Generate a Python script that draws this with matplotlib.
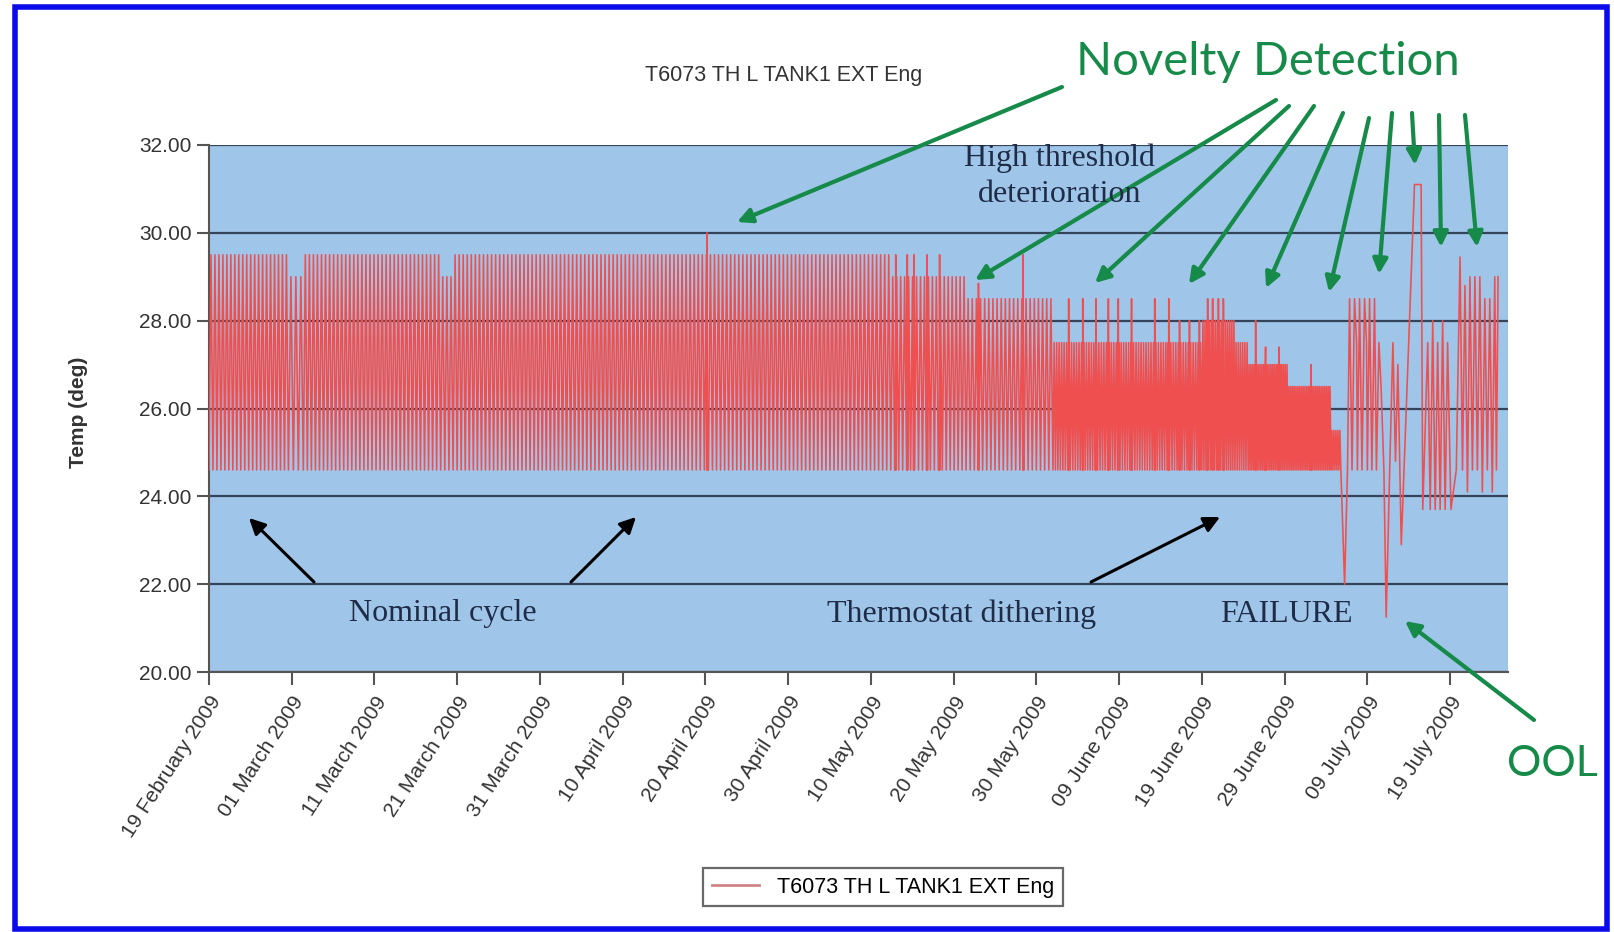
import numpy as np
import pandas as pd
import matplotlib.pyplot as plt
import matplotlib.dates as mdates
from matplotlib.patches import Rectangle

W, H = 1614, 932
start = pd.Timestamp('2009-02-19')

# regular thermostat cycling (days after 19 Feb 2009)
seg_start = [0.0, 9.6, 11.4, 28.0, 29.5, 82.4, 91.5, 102.0, 120.0, 124.0, 125.6, 130.4, 135.6]
seg_end = [9.6, 11.4, 28.0, 29.5, 82.4, 91.5, 102.0, 120.0, 124.0, 125.6, 130.4, 135.6, 136.8]
seg_low = [24.6, 24.6, 24.6, 24.6, 24.6, 24.6, 24.6, 24.6, 24.6, 24.6, 24.6, 24.6, 24.6]
seg_high = [29.5, 29.0, 29.5, 29.0, 29.5, 29.0, 28.5, 27.5, 28.0, 27.5, 27.0, 26.5, 25.5]
seg_cycles = [20, 3, 34, 3, 108, 19, 21, 60, 16, 6, 22, 24, 5]

# single excursions sticking out of the regular cycling
spike_day = [60.2, 83.0, 84.4, 85.2, 86.8, 88.3, 93.0, 98.4, 103.9, 105.6, 107.2,
             108.7, 109.9, 111.5, 114.3, 116.0, 117.3, 118.5, 119.7, 120.7, 121.3,
             122.0, 122.6, 126.5, 127.7, 129.3, 133.2]
spike_val = [30.0, 29.5, 29.5, 29.5, 29.5, 29.5, 28.85, 29.5, 28.5, 28.5, 28.5,
             28.5, 28.5, 28.5, 28.5, 28.5, 28.0, 28.0, 28.0, 28.5, 28.5,
             28.5, 28.5, 28.0, 27.4, 27.4, 27.0]

# failure period, point by point
tail_day = [136.8, 137.25, 137.6, 137.85, 138.15, 138.45, 138.7, 138.8, 139.06, 139.35,
            139.66, 139.9, 140.0, 140.27, 140.55, 140.87, 141.1, 141.4, 141.68, 142.0,
            142.28, 142.7, 143.09, 143.4, 143.69, 144.1, 145.7, 146.5, 146.7, 147.3,
            147.6, 147.9, 148.2, 148.5, 148.8, 149.1, 149.4, 149.7, 150.1, 150.75,
            151.2, 151.5, 151.8, 152.1, 152.4, 152.7, 153.0, 153.3, 153.6, 153.9,
            154.2, 154.5, 154.8, 155.1, 155.4, 155.6, 155.8]
tail_val = [24.6, 22.0, 24.6, 28.5, 24.6, 28.5, 27.5, 24.6, 28.5, 24.6,
            28.5, 27.5, 24.6, 28.5, 24.6, 28.5, 24.6, 27.5, 26.4, 24.6,
            21.25, 24.6, 27.5, 24.8, 27.0, 22.9, 31.1, 31.1, 23.7, 27.5,
            23.7, 28.0, 23.7, 27.5, 23.7, 28.0, 23.7, 27.5, 23.7, 24.6,
            29.45, 24.6, 28.8, 24.1, 29.0, 24.6, 29.0, 24.6, 29.0, 24.1,
            28.5, 24.6, 28.5, 24.1, 29.0, 24.6, 29.0]

tick_dates = pd.date_range('2009-02-19', periods=16, freq='10D')

# build series
days, vals = [], []
for s, e, lo, hi, n in zip(seg_start, seg_end, seg_low, seg_high, seg_cycles):
    t = np.linspace(s, e, 2 * n + 1)[:-1]
    v = np.where(np.arange(2 * n) % 2 == 0, lo, hi)
    days.extend(t)
    vals.extend(v)
for d, v in zip(spike_day, spike_val):
    days.extend([d - 0.04, d, d + 0.04])
    vals.extend([24.6, v, 24.6])
order = np.argsort(days, kind='stable')
days = list(np.array(days)[order]) + tail_day
vals = list(np.array(vals)[order]) + tail_val
series = pd.Series(vals, index=start + pd.to_timedelta(days, unit='D'))

plt.rcParams['font.family'] = ['Liberation Sans', 'DejaVu Sans']

fig = plt.figure(figsize=(W / 100, H / 100), dpi=100)
ax = fig.add_axes([209 / W, 1 - 672 / H, (1508 - 209) / W, (672 - 145) / H])
ax.set_facecolor('#9fc5e9')

line, = ax.plot(series.index, series.values, color='#ef4f4f', lw=1.15, zorder=3)

ax.set_ylim(20, 32)
ax.set_yticks(np.arange(20, 33, 2))
ax.yaxis.set_major_formatter(plt.FuncFormatter(lambda v, p: '%.2f' % v))
ax.set_xlim(start, start + pd.Timedelta(days=157))
ax.set_xticks(tick_dates)
ax.xaxis.set_major_formatter(mdates.DateFormatter('%d %B %Y'))
plt.setp(ax.get_xticklabels(), rotation=57, ha='right', rotation_mode='anchor')

ax.grid(axis='y', color='#34445a', lw=1.6)
ax.grid(axis='x', visible=False)
ax.set_axisbelow(True)
for side in ['top', 'right']:
    ax.spines[side].set_visible(False)
for side in ['left', 'bottom']:
    ax.spines[side].set_color('#555555')
    ax.spines[side].set_linewidth(1.5)
ax.tick_params(axis='both', colors='#555555', labelcolor='#333333', labelsize=15,
               length=9, width=1.5, direction='out')
ax.tick_params(axis='x', pad=6)

fig.text(784 / W, 1 - 75 / H, 'T6073 TH L TANK1 EXT Eng', ha='center', va='center',
         fontsize=15.5, color='#333333')
fig.text(78 / W, 1 - 412 / H, 'Temp (deg)', rotation=90, ha='center', va='center',
         fontsize=15, fontweight='bold', color='#333333')

leg = fig.legend([line], ['T6073 TH L TANK1 EXT Eng'], loc='center',
                 bbox_to_anchor=(883 / W, 1 - 887 / H), fontsize=15.5, fancybox=False,
                 edgecolor='#444444', handlelength=2.2, borderpad=0.4)
leg.get_frame().set_linewidth(1.6)
leg.get_lines()[0].set_color('#d08585')
leg.get_lines()[0].set_linewidth(2)


def arrow(x0, y0, x1, y1, color, lw, head):
    ax.annotate('', xy=(x1, H - y1), xytext=(x0, H - y0), xycoords='figure pixels',
                textcoords='figure pixels', annotation_clip=False, zorder=6,
                arrowprops=dict(arrowstyle='-|>', color=color, lw=lw,
                                mutation_scale=head, shrinkA=0, shrinkB=0))


green = '#168a48'
serif = ['Liberation Serif', 'DejaVu Serif']
navy = '#1f2c47'

fig.text(1268 / W, 1 - 62 / H, 'Novelty Detection', ha='center', va='center',
         fontsize=34, color=green, family=['Lato', 'DejaVu Sans'])
fig.text(1552 / W, 1 - 764 / H, 'OOL', ha='center', va='center',
         fontsize=31, color=green, family=['Lato', 'DejaVu Sans'])

arrow(1062, 87, 737, 222, green, 3, 22)
fan_start = [(1276, 100), (1289, 106), (1314, 106), (1343, 113), (1369, 118),
             (1392, 113), (1412, 113), (1439, 115), (1465, 115)]
fan_tip = [(975, 280), (1095, 283), (1189, 284), (1266, 288), (1329, 292),
           (1379, 274), (1415, 165), (1441, 247), (1477, 247)]
for (x0, y0), (x1, y1) in zip(fan_start, fan_tip):
    arrow(x0, y0, x1, y1, green, 3, 22)
arrow(1534, 720, 1405, 621, green, 3, 22)

fig.text(1060 / W, 1 - 158 / H, 'High threshold', ha='center', va='center',
         fontsize=23, color=navy, family=serif, zorder=5)
fig.text(1060 / W, 1 - 195 / H, 'deterioration', ha='center', va='center',
         fontsize=23, color=navy, family=serif, zorder=5)
fig.text(443 / W, 1 - 614 / H, 'Nominal cycle', ha='center', va='center',
         fontsize=23, color=navy, family=serif)
fig.text(962 / W, 1 - 614 / H, 'Thermostat dithering', ha='center', va='center',
         fontsize=23, color=navy, family=serif)
fig.text(1286 / W, 1 - 614 / H, 'FAILURE', ha='center', va='center',
         fontsize=23, color=navy, family=serif)

arrow(314, 582, 249, 518, 'black', 2.2, 24)
arrow(571, 582, 636, 517, 'black', 2.2, 24)
arrow(1091, 582, 1220, 517, 'black', 2.2, 24)

fig.add_artist(Rectangle((15 / W, 1 - 929 / H), (1607 - 15) / W, (929 - 7) / H,
                         transform=fig.transFigure, fill=False, edgecolor='#0b0bea', lw=4))

fig.savefig('out.png', dpi=100)
